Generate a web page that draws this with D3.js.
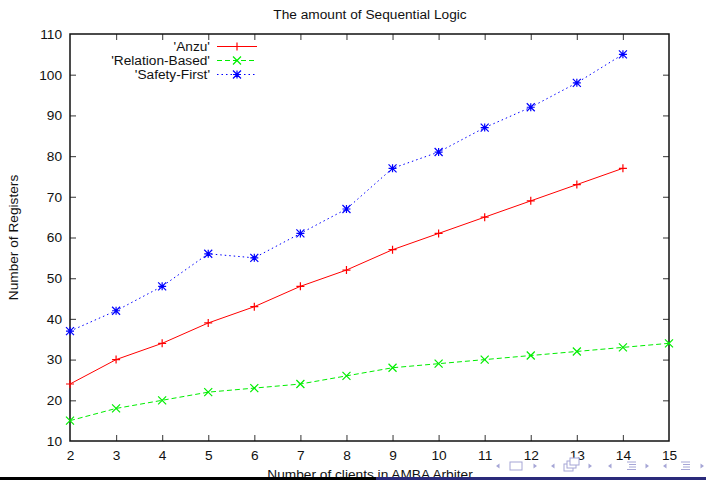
<!DOCTYPE html>
<html>
<head>
<meta charset="utf-8">
<script src="https://cdn.jsdelivr.net/npm/d3@7"></script>
<style>
  html, body { margin: 0; padding: 0; background: #fff; }
  svg { display: block; font-family: "Liberation Sans", Arial, sans-serif; }
</style>
</head>
<body>
<div id="chart"></div>
<script>
// dati (numero di registri per numero di client)
const clients = [2, 3, 4, 5, 6, 7, 8, 9, 10, 11, 12, 13, 14, 15];
const anzu = [24, 30, 34, 39, 43, 48, 52, 57, 61, 65, 69, 73, 77];
const relationBased = [15, 18, 20, 22, 23, 24, 26, 28, 29, 30, 31, 32, 33, 34];
const safetyFirst = [37, 42, 48, 56, 55, 61, 67, 77, 81, 87, 92, 98, 105];
const yTicks = [10, 20, 30, 40, 50, 60, 70, 80, 90, 100, 110];
const seriesNames = ["'Anzu'", "'Relation-Based'", "'Safety-First'"];

const W = 706, H = 480;
const fs = 13.7;

const svg = d3.select('#chart').append('svg')
    .attr('width', W)
    .attr('height', H);

const x = d3.scaleLinear().domain([2, 15]).range([70, 669]);
const y = d3.scaleLinear().domain([10, 110]).range([441, 34]);

// serie: colore, tratteggio, marker
const series = [
    { name: seriesNames[0], values: anzu, color: '#ff0000', dash: null, marker: 'plus' },
    { name: seriesNames[1], values: relationBased, color: '#00ee00', dash: '5,3', marker: 'cross' },
    { name: seriesNames[2], values: safetyFirst, color: '#0000ff', dash: '1.5,3', marker: 'star' }
];

// path dei marker (stile gnuplot)
function markerPath(type, s) {
    const plus = `M${-s},0H${s}M0,${-s}V${s}`;
    const cross = `M${-s},${-s}L${s},${s}M${-s},${s}L${s},${-s}`;
    if (type === 'plus') return plus;
    if (type === 'cross') return cross;
    return plus + cross;
}

// Assi (tick verso l'interno, speculari su alto e destra)
const gx = svg.append('g')
    .attr('transform', `translate(0,${y(10)})`)
    .call(d3.axisBottom(x).tickValues(clients).tickSize(-6).tickPadding(9).tickFormat(d3.format('d')));
const gy = svg.append('g')
    .attr('transform', `translate(${x(2)},0)`)
    .call(d3.axisLeft(y).tickValues(yTicks).tickSize(-6).tickPadding(8));
const gxt = svg.append('g')
    .attr('transform', `translate(0,${y(110)})`)
    .call(d3.axisTop(x).tickValues(clients.slice(1, -1)).tickSize(-6).tickFormat(''));
const gyr = svg.append('g')
    .attr('transform', `translate(${x(15)},0)`)
    .call(d3.axisRight(y).tickValues(yTicks.slice(1, -1)).tickSize(-6).tickFormat(''));

[gx, gy, gxt, gyr].forEach(g => {
    g.select('.domain').remove();
    g.selectAll('.tick line').attr('stroke', '#555').attr('stroke-width', 1.2);
    g.selectAll('.tick text')
        .attr('font-size', fs)
        .attr('font-family', '"Liberation Sans", Arial, sans-serif')
        .attr('fill', '#111');
});
gx.selectAll('.tick').filter(d => d === 2 || d === 15).select('line').remove();
gy.selectAll('.tick').filter(d => d === 10 || d === 110).select('line').remove();

// bordo
svg.append('rect')
    .attr('x', x(2))
    .attr('y', y(110))
    .attr('width', x(15) - x(2))
    .attr('height', y(10) - y(110))
    .attr('fill', 'none')
    .attr('stroke', '#111')
    .attr('stroke-width', 1.5);

// Linee
const line = d3.line()
    .x((d, i) => x(clients[i]))
    .y(d => y(d));

series.forEach(s => {
    svg.append('path')
        .datum(s.values)
        .attr('fill', 'none')
        .attr('stroke', s.color)
        .attr('stroke-width', 1)
        .attr('stroke-dasharray', s.dash)
        .attr('d', line);

    svg.selectAll(null)
        .data(s.values)
        .join('path')
        .attr('transform', (d, i) => `translate(${x(clients[i])},${y(d)})`)
        .attr('d', markerPath(s.marker, 4))
        .attr('fill', 'none')
        .attr('stroke', s.color)
        .attr('stroke-width', 1.2);
});

// Legenda
const legend = svg.append('g').attr('class', 'legend');
series.forEach((s, i) => {
    const ly = 46.5 + i * 14;
    legend.append('text')
        .attr('x', 210)
        .attr('y', ly)
        .attr('dy', '0.35em')
        .attr('text-anchor', 'end')
        .attr('font-size', fs)
        .attr('fill', '#111')
        .text(s.name);
    legend.append('line')
        .attr('x1', 217).attr('x2', 257)
        .attr('y1', ly).attr('y2', ly)
        .attr('stroke', s.color)
        .attr('stroke-width', 1)
        .attr('stroke-dasharray', s.dash);
    legend.append('path')
        .attr('transform', `translate(237,${ly})`)
        .attr('d', markerPath(s.marker, 4))
        .attr('fill', 'none')
        .attr('stroke', s.color)
        .attr('stroke-width', 1.2);
});

// Titolo ed etichette
svg.append('text')
    .attr('x', 370)
    .attr('y', 19)
    .attr('text-anchor', 'middle')
    .attr('font-size', fs)
    .attr('fill', '#111')
    .text('The amount of Sequential Logic');

svg.append('text')
    .attr('x', 370)
    .attr('y', 479)
    .attr('text-anchor', 'middle')
    .attr('font-size', fs)
    .attr('fill', '#111')
    .text('Number of clients in AMBA Arbiter');

svg.append('text')
    .attr('transform', `translate(18,${(y(10) + y(110)) / 2}) rotate(-90)`)
    .attr('text-anchor', 'middle')
    .attr('font-size', fs)
    .attr('fill', '#111')
    .text('Number of Registers');

// barra inferiore stile beamer
svg.append('rect').attr('x', 0).attr('y', 477).attr('width', 376).attr('height', 3).attr('fill', '#000');
svg.append('rect').attr('x', 376).attr('y', 477).attr('width', W - 376).attr('height', 3).attr('fill', '#2a2a7a');

// simboli di navigazione
const nav = svg.append('g')
    .attr('fill', 'none')
    .attr('stroke', '#a6a6d6')
    .attr('stroke-width', 1);
const navY = 466;
const arrows = [498, 535, 553, 590, 610, 647, 665, 702];
arrows.forEach((ax, i) => {
    const dir = i % 2 === 0 ? -1 : 1;
    nav.append('path')
        .attr('d', `M${ax + dir * 2},${navY}L${ax - dir * 1.5},${navY - 2.5}L${ax - dir * 1.5},${navY + 2.5}Z`)
        .attr('fill', '#a6a6d6')
        .attr('stroke', 'none');
});
nav.append('rect').attr('x', 510).attr('y', navY - 4).attr('width', 12).attr('height', 8);
nav.append('rect').attr('x', 564).attr('y', navY - 2).attr('width', 9).attr('height', 7);
nav.append('rect').attr('x', 567).attr('y', navY - 5).attr('width', 9).attr('height', 7).attr('fill', '#fff');
nav.append('rect').attr('x', 570).attr('y', navY - 8).attr('width', 9).attr('height', 7).attr('fill', '#fff');
[627, 681].forEach(cx => {
    [-4, -1.5, 1, 3.5].forEach((dy, j) => {
        nav.append('line')
            .attr('x1', cx + (j === 0 || j === 3 ? 0 : 2)).attr('x2', cx + 9)
            .attr('y1', navY + dy).attr('y2', navY + dy);
    });
});
</script>
</body>
</html>
